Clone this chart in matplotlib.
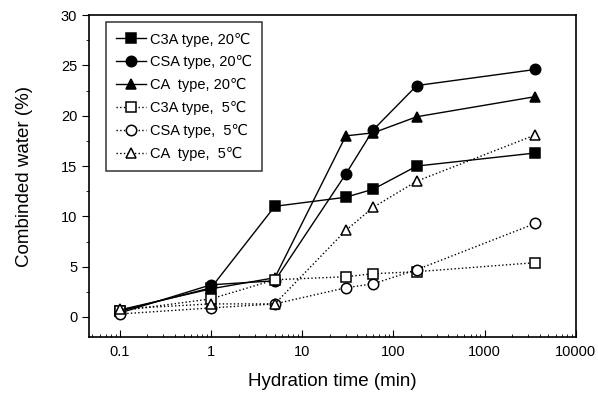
import numpy as np
import matplotlib.pyplot as plt

plt.rcParams['font.family'] = ['Liberation Sans', 'DejaVu Sans']

# hydration time (min)
time = [0.1, 1, 5, 30, 60, 180, 3600]

# combined water (%)
c3a_20 = [0.6, 2.9, 11.0, 11.9, 12.7, 15.0, 16.3]
csa_20 = [0.4, 3.2, 3.6, 14.2, 18.6, 23.0, 24.6]
ca_20 = [0.7, 2.8, 3.9, 18.0, 18.3, 19.9, 21.9]
c3a_5 = [0.6, 1.8, 3.7, 4.0, 4.3, 4.5, 5.4]
csa_5 = [0.3, 0.9, 1.3, 2.9, 3.3, 4.7, 9.3]
ca_5 = [0.8, 1.3, 1.3, 8.6, 10.9, 13.5, 18.1]

labels = ["C3A type, 20\u2103", "CSA type, 20\u2103", "CA  type, 20\u2103",
          "C3A type,  5\u2103", "CSA type,  5\u2103", "CA  type,  5\u2103"]

fig = plt.figure(figsize=(5.98, 3.98), dpi=100)
ax = fig.add_axes([0.149, 0.153, 0.814, 0.809])

series = [c3a_20, csa_20, ca_20, c3a_5, csa_5, ca_5]
markers = ['s', 'o', '^', 's', 'o', '^']
for i, (vals, m, lab) in enumerate(zip(series, markers, labels)):
    filled = i < 3
    ax.plot(time, vals, marker=m, linestyle='-' if filled else ':',
            color='black', linewidth=1.0, markersize=7.5 if m != 's' else 7,
            markerfacecolor='black' if filled else 'white',
            markeredgecolor='black', markeredgewidth=1.1, label=lab)

ax.set_xscale('log')
ax.set_xlim(0.046, 10000)
ax.set_ylim(-2, 30)
ax.set_yticks([0, 5, 10, 15, 20, 25, 30])
ax.set_yticks(np.arange(-2.5, 30, 2.5), minor=True)
ax.set_xticks([0.1, 1, 10, 100, 1000, 10000])
ax.set_xticklabels(['0.1', '1', '10', '100', '1000', '10000'])

ax.tick_params(axis='x', which='major', direction='in', length=5, labelsize=10.5, pad=6)
ax.tick_params(axis='x', which='minor', direction='in', length=2.5)
ax.tick_params(axis='y', which='major', direction='out', length=5, labelsize=10.5)
ax.tick_params(axis='y', which='minor', direction='out', length=2.5)
ax.set_ylim(-2, 30)

for sp in ax.spines.values():
    sp.set_linewidth(1.2)

ax.set_xlabel('Hydration time (min)', fontsize=13.5, labelpad=10)
ax.set_ylabel('Combinded water (%)', fontsize=13.5, labelpad=20)

leg = ax.legend(loc='upper left', bbox_to_anchor=(0.035, 0.978), fontsize=10.5,
                frameon=True, fancybox=False, handlelength=2.0,
                labelspacing=0.6, borderpad=0.7, handletextpad=0.3,
                borderaxespad=0)
leg.get_frame().set_edgecolor('black')
leg.get_frame().set_linewidth(1.1)

fig.savefig('out.png', dpi=100)
